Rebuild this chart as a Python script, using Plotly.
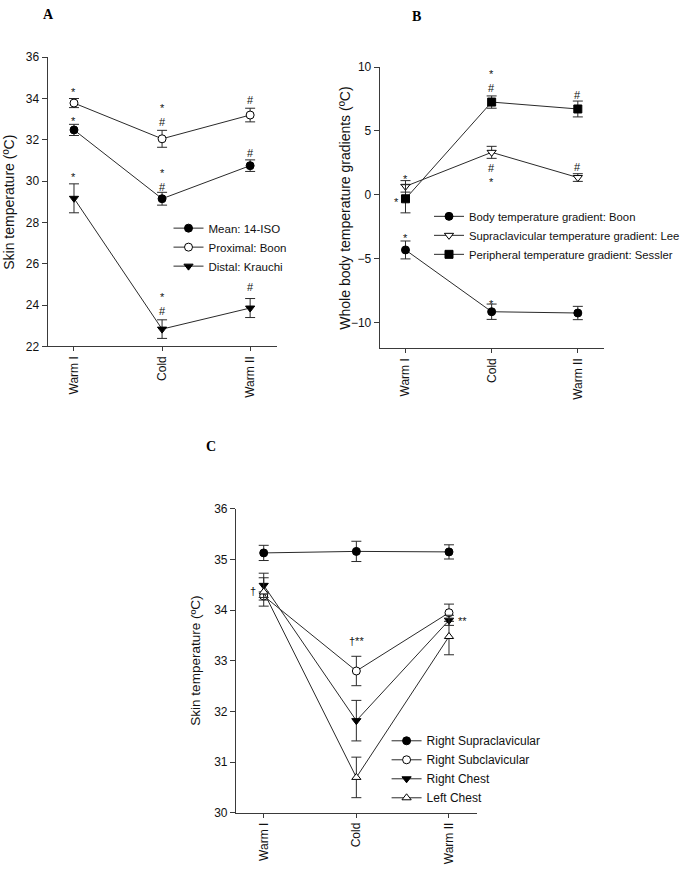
import plotly.graph_objects as go

# ---------------- data ----------------
categories = ["Warm I", "Cold", "Warm II"]

# Panel A: skin temperature (°C)
a_mean = [32.48, 29.15, 30.75]
a_mean_err = [0.27, 0.31, 0.28]
a_prox = [33.78, 32.05, 33.20]
a_prox_err = [0.22, 0.41, 0.33]
a_dist = [29.17, 22.84, 23.86]
a_dist_err = [0.70, 0.45, 0.46]

# Panel B: whole body temperature gradients (°C)
b_body = [-4.30, -9.13, -9.23]
b_body_err = [0.70, 0.60, 0.52]
b_supra = [0.67, 3.33, 1.36]
b_supra_err = [0.45, 0.47, 0.30]
b_periph = [-0.30, 7.26, 6.72]
b_periph_err = [1.10, 0.48, 0.62]

# Panel C: skin temperature (°C)
c_rsupra = [35.13, 35.16, 35.15]
c_rsupra_err = [0.15, 0.20, 0.14]
c_rsub = [34.28, 32.80, 33.95]
c_rsub_err = [0.08, 0.29, 0.17]
c_rchest = [34.49, 31.82, 33.80]
c_rchest_err = [0.24, 0.40, 0.10]
c_lchest = [34.36, 30.70, 33.48]
c_lchest_err = [0.28, 0.40, 0.36]

# significance marks: (panel, category, value, text)
sig_marks = [
    ("A", "Warm I", 34.43, "*"), ("A", "Warm I", 33.05, "*"), ("A", "Warm I", 30.33, "*"),
    ("A", "Cold", 33.20, "*<br>#"),
    ("A", "Cold", 30.05, "*<br>#"),
    ("A", "Cold", 24.05, "*<br>#"),
    ("A", "Warm II", 33.95, "#"), ("A", "Warm II", 31.38, "#"), ("A", "Warm II", 24.86, "#"),
    ("B", "Warm I", 1.46, "*"), ("B", "Warm I", -3.15, "*"),
    ("B", "Cold", 8.93, "*<br>#"),
    ("B", "Cold", 1.53, "#<br>*"), ("B", "Cold", -8.30, "*"),
    ("B", "Warm II", 7.85, "#"), ("B", "Warm II", 2.15, "#"),
    ("C", "Cold", 33.40, "†**"),
]
# marks offset sideways from their point
side_marks = [
    ("B", "Warm I", -0.36, "*", -9),
    ("C", "Warm I", 34.37, "†", -11),
    ("C", "Warm II", 33.84, "**", 14),
]

W, H = 685, 874
FONT = "Liberation Sans, Arial, sans-serif"
LINE_COL = "#2a2a2a"
AX_COL = "#3a3a3a"
TXT_COL = "#111"

fig = go.Figure()


def add_series(name, y, err, symbol, fill, xa, ya, legend):
    fig.add_trace(go.Scatter(
        x=categories, y=y, name=name, mode="lines+markers",
        line=dict(color=LINE_COL, width=1),
        marker=dict(symbol=symbol, size=8, color=fill,
                    line=dict(color="black", width=1)),
        error_y=dict(type="data", array=err, visible=True,
                     color=LINE_COL, thickness=1, width=5),
        xaxis=xa, yaxis=ya, legend=legend,
    ))


add_series("Mean: 14-ISO", a_mean, a_mean_err, "circle", "black", "x", "y", "legend")
add_series("Proximal: Boon", a_prox, a_prox_err, "circle", "white", "x", "y", "legend")
add_series("Distal: Krauchi", a_dist, a_dist_err, "triangle-down", "black", "x", "y", "legend")

add_series("Body temperature gradient: Boon", b_body, b_body_err, "circle", "black", "x2", "y2", "legend2")
add_series("Supraclavicular temperature gradient: Lee", b_supra, b_supra_err, "triangle-down", "white", "x2", "y2", "legend2")
add_series("Peripheral temperature gradient: Sessler", b_periph, b_periph_err, "square", "black", "x2", "y2", "legend2")

add_series("Right Supraclavicular", c_rsupra, c_rsupra_err, "circle", "black", "x3", "y3", "legend3")
add_series("Right Subclavicular", c_rsub, c_rsub_err, "circle", "white", "x3", "y3", "legend3")
add_series("Right Chest", c_rchest, c_rchest_err, "triangle-down", "black", "x3", "y3", "legend3")
add_series("Left Chest", c_lchest, c_lchest_err, "triangle-up", "white", "x3", "y3", "legend3")


def px_x(p):
    return p / W


def px_y(p):
    return 1 - p / H


xcommon = dict(type="category", range=[-0.3, 2.3], showline=True, linecolor=AX_COL,
               linewidth=1, ticks="outside", ticklen=4, tickcolor=AX_COL,
               tickangle=-90, showgrid=False, zeroline=False,
               tickfont=dict(family=FONT, size=12, color=TXT_COL))
ycommon = dict(showline=True, linecolor=AX_COL, linewidth=1, ticks="outside",
               ticklen=5, tickcolor=AX_COL, showgrid=False, zeroline=False,
               tickfont=dict(family=FONT, size=12, color=TXT_COL))


def leg(x, y, size):
    return dict(x=x, y=y, font=dict(family=FONT, size=size, color=TXT_COL),
                bgcolor="rgba(0,0,0,0)", xanchor="left", yanchor="top",
                tracegroupgap=0, itemwidth=30)


fig.update_layout(
    width=W, height=H, margin=dict(l=0, r=0, t=0, b=0),
    paper_bgcolor="white", plot_bgcolor="white", showlegend=True,
    xaxis=dict(domain=[px_x(48), px_x(279)], anchor="y", **xcommon),
    yaxis=dict(domain=[px_y(345), px_y(51)], anchor="x", range=[22, 36],
               tickvals=[22, 24, 26, 28, 30, 32, 34, 36], **ycommon),
    xaxis2=dict(domain=[px_x(383), px_x(609)], anchor="y2", **xcommon),
    yaxis2=dict(domain=[px_y(347), px_y(61)], anchor="x2", range=[-12, 10],
                tickvals=[-10, -5, 0, 5, 10], **ycommon),
    xaxis3=dict(domain=[px_x(238), px_x(481)], anchor="y3", **xcommon),
    yaxis3=dict(domain=[px_y(819), px_y(510)], anchor="x3", range=[30, 36],
                tickvals=[30, 31, 32, 33, 34, 35, 36], **ycommon),
    legend=leg(px_x(170), px_y(210), 11.5),
    legend2=leg(px_x(433), px_y(198), 11.3),
    legend3=leg(px_x(390), px_y(731), 12),
)

refs = {"A": ("x", "y"), "B": ("x2", "y2"), "C": ("x3", "y3")}
ann = []
for panel, cat, val, txt in sig_marks:
    xr, yr = refs[panel]
    ann.append(dict(x=cat, y=val, xref=xr, yref=yr, text=txt, showarrow=False,
                    yshift=-2.5 if txt == "*" else 0,
                    font=dict(family=FONT, size=11, color=TXT_COL)))
for panel, cat, val, txt, dx in side_marks:
    xr, yr = refs[panel]
    ann.append(dict(x=cat, y=val, xref=xr, yref=yr, text=txt, showarrow=False,
                    xshift=dx, yshift=-2.5 if txt.startswith("*") else 0,
                    font=dict(family=FONT, size=11, color=TXT_COL)))

# y-axis titles
for txt, xp, yp, fs in [("Skin temperature (ºC)", 9, 198, 14),
                        ("Whole body temperature gradients (ºC)", 348, 204, 14),
                        ("Skin temperature (ºC)", 197, 664, 13.5)]:
    ann.append(dict(x=px_x(xp), y=px_y(yp), xref="paper", yref="paper", text=txt,
                    textangle=-90, showarrow=False, xanchor="center", yanchor="middle",
                    font=dict(family=FONT, size=fs, color=TXT_COL)))

# panel letters
for txt, xp, yp in [("A", 49, 8), ("B", 420, 10), ("C", 213, 447)]:
    ann.append(dict(x=px_x(xp), y=px_y(yp), xref="paper", yref="paper", text="<b>%s</b>" % txt,
                    showarrow=False, xanchor="center", yanchor="middle",
                    font=dict(family="Liberation Serif, Times New Roman, serif", size=14, color="black")))

fig.update_layout(annotations=ann)
fig.write_html("out.html", config={"displayModeBar": False},
               post_script="document.body.style.margin='0';document.body.style.padding='0';")
